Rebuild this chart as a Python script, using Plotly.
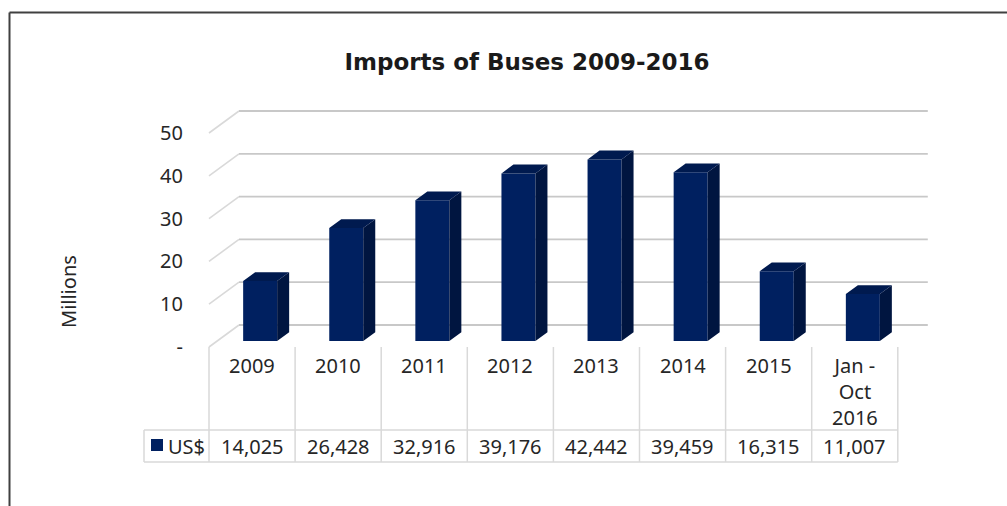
import plotly.graph_objects as go

# ---------------- data ----------------
categories = ["2009", "2010", "2011", "2012", "2013", "2014", "2015", "Jan -<br>Oct<br>2016"]
imports_usd_thousands = [14025, 26428, 32916, 39176, 42442, 39459, 16315, 11007]
y_tick_values = [0, 10, 20, 30, 40, 50]
y_tick_labels = ["-", "10", "20", "30", "40", "50"]
series_name = "US$"
title_text = "Imports of Buses 2009-2016"
y_title = "Millions"

values_millions = [v / 1000 for v in imports_usd_thousands]
value_labels = [f"{v:,}" for v in imports_usd_thousands]

# ---------------- geometry ----------------
W, H = 1007, 506
X_EDGE_PX = 209.0   # pixel of left edge of first category column
X_SCALE = 86.1      # px per category
Y_ZERO_PX = 347.0   # pixel of front-edge zero
Y_SCALE = 4.28      # px per million
PLOT_L, PLOT_R, PLOT_T, PLOT_B = 140, 934, 98, 470


def px2x(px):
    return (px - X_EDGE_PX) / X_SCALE - 0.5


def px2y(py):
    return (Y_ZERO_PX - py) / Y_SCALE


DEPTH_X = 30 / X_SCALE
DEPTH_Y = 22 / Y_SCALE
BAR_T0, BAR_T1 = 0.27, 0.67
BAR_W = 34 / X_SCALE
n = len(categories)
idx = list(range(n))
xf = [i + BAR_T0 * DEPTH_X for i in idx]
base = BAR_T0 * DEPTH_Y
ddx = (BAR_T1 - BAR_T0) * DEPTH_X
ddy = (BAR_T1 - BAR_T0) * DEPTH_Y

FRONT = "#002060"
SIDE = "#001540"
TOP = "#001a4f"
GRID_BACK = "#c8c8c8"
GRID_DIAG = "#d9d9d9"
TABLE = "#d9d9d9"
TXT = "#262626"
FONT = "Noto Sans"

fig = go.Figure()

# front faces
fig.add_trace(go.Bar(x=xf, y=values_millions, base=base, width=BAR_W,
                     marker=dict(color=FRONT, line=dict(width=0)),
                     name=series_name, showlegend=False, hoverinfo="skip"))

# side and top faces (derived from values)
sx, sy, tx, ty = [], [], [], []
for x, v in zip(xf, values_millions):
    xl, xr = x - BAR_W / 2, x + BAR_W / 2
    top = base + v
    sx += [xr, xr + ddx, xr + ddx, xr, xr, None]
    sy += [base, base + ddy, top + ddy, top, base, None]
    tx += [xl, xl + ddx, xr + ddx, xr, xl, None]
    ty += [top, top + ddy, top + ddy, top, top, None]
fig.add_trace(go.Scatter(x=sx, y=sy, mode="lines", fill="toself", fillcolor=SIDE,
                         line=dict(width=0, color=SIDE), showlegend=False, hoverinfo="skip"))
fig.add_trace(go.Scatter(x=tx, y=ty, mode="lines", fill="toself", fillcolor=TOP,
                         line=dict(width=0, color=TOP), showlegend=False, hoverinfo="skip"))

shapes = []
# 3D gridlines: diagonal on the floor/side, horizontal on back wall
x_first = -0.5
x_last = n - 0.5
for v in y_tick_values:
    shapes.append(dict(type="line", xref="x", yref="y", layer="below",
                       x0=x_first, y0=v, x1=x_first + DEPTH_X, y1=v + DEPTH_Y,
                       line=dict(color=GRID_DIAG, width=1.6)))
    shapes.append(dict(type="line", xref="x", yref="y", layer="below",
                       x0=x_first + DEPTH_X, y0=v + DEPTH_Y, x1=x_last + DEPTH_X, y1=v + DEPTH_Y,
                       line=dict(color=GRID_BACK, width=1.8)))

# data table lines
tbl_left = px2x(144)
row_sep = px2y(430)
tbl_bot = px2y(462)
for k in range(n + 1):
    shapes.append(dict(type="line", xref="x", yref="y", layer="below",
                       x0=x_first + k, x1=x_first + k, y0=0, y1=tbl_bot,
                       line=dict(color=TABLE, width=1.5)))
for yy in (row_sep, tbl_bot):
    shapes.append(dict(type="line", xref="x", yref="y", layer="below",
                       x0=tbl_left, x1=x_last, y0=yy, y1=yy,
                       line=dict(color=TABLE, width=1.5)))
shapes.append(dict(type="line", xref="x", yref="y", layer="below",
                   x0=tbl_left, x1=tbl_left, y0=row_sep, y1=tbl_bot,
                   line=dict(color=TABLE, width=1.5)))
# legend key in table
shapes.append(dict(type="rect", xref="x", yref="y",
                   x0=px2x(151), x1=px2x(163), y0=px2y(451), y1=px2y(439),
                   fillcolor=FRONT, line=dict(width=0)))

# outer frame (top-left corner of the chart border)
shapes.append(dict(type="line", xref="paper", yref="paper",
                   x0=9.5 / W, x1=9.5 / W, y0=0, y1=1 - 12.5 / H,
                   line=dict(color="#404040", width=2)))
shapes.append(dict(type="line", xref="paper", yref="paper",
                   x0=9.5 / W, x1=1, y0=1 - 12.5 / H, y1=1 - 12.5 / H,
                   line=dict(color="#404040", width=2)))

annotations = []
for i, c in enumerate(categories):
    annotations.append(dict(x=i, y=px2y(350), xref="x", yref="y", text=c,
                            showarrow=False, xanchor="center", yanchor="top",
                            font=dict(family=FONT, size=20, color=TXT)))
for i, lab in enumerate(value_labels):
    annotations.append(dict(x=i, y=px2y(446), xref="x", yref="y", text=lab,
                            showarrow=False, xanchor="center", yanchor="middle",
                            font=dict(family=FONT, size=20, color=TXT)))
annotations.append(dict(x=px2x(166), y=px2y(446), xref="x", yref="y", text=series_name,
                        showarrow=False, xanchor="left", yanchor="middle",
                        font=dict(family=FONT, size=20, color=TXT)))
annotations.append(dict(x=68 / W, y=1 - 292 / H, xref="paper", yref="paper", text=y_title,
                        showarrow=False, textangle=-90, xanchor="center", yanchor="middle",
                        font=dict(family=FONT, size=20, color=TXT)))

fig.update_layout(
    width=W, height=H,
    margin=dict(l=0, r=0, t=0, b=0),
    paper_bgcolor="white", plot_bgcolor="white",
    showlegend=False,
    title=dict(text="<b>" + title_text + "</b>", x=527 / W, xanchor="center",
               y=1 - 62 / H, yanchor="middle", xref="container", yref="container",
               font=dict(family="DejaVu Sans", size=23, color="#1a1a1a")),
    xaxis=dict(domain=[PLOT_L / W, PLOT_R / W], range=[px2x(PLOT_L), px2x(PLOT_R)],
               visible=False, fixedrange=True),
    yaxis=dict(domain=[1 - PLOT_B / H, 1 - PLOT_T / H], range=[px2y(PLOT_B), px2y(PLOT_T)],
               anchor="free", position=183 / W, tickvals=y_tick_values, ticktext=y_tick_labels,
               showgrid=False, zeroline=False, showline=False, ticks="",
               tickfont=dict(family=FONT, size=20, color=TXT), fixedrange=True),
    shapes=shapes,
    annotations=annotations,
)

fig.write_html("out.html", config={"displayModeBar": False},
               post_script="document.body.style.margin='0px';document.body.style.overflow='hidden';")
